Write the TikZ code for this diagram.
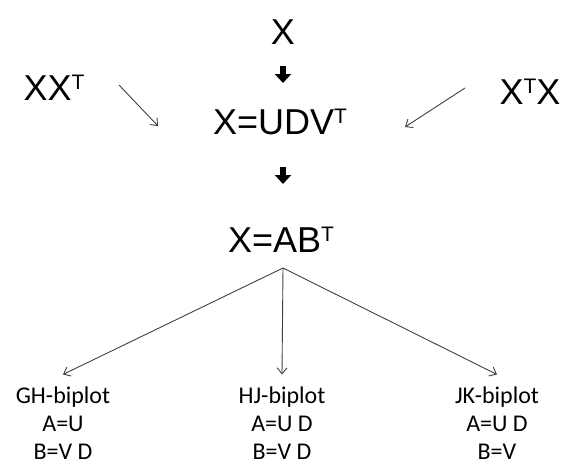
\documentclass[tikz,border=0pt]{standalone}
\usepackage{fontspec}
\setmainfont{Liberation Sans}
\newfontfamily\calib{Carlito}
\usetikzlibrary{arrows.meta, positioning, calc}
\newcommand{\tp}{\raisebox{10.5pt}{\fontsize{21}{21}\selectfont T}}
\tikzset{
  big/.style={font=\fontsize{36}{40}\selectfont, inner sep=0pt},
  small/.style={font=\calib\fontsize{24}{28}\selectfont, align=center, inner sep=0pt},
  blockarrow/.style={line width=6pt, -{Triangle[width=16pt, length=9pt]}},
  thin/.style={draw=black!75, line width=0.9pt, -{Straight Barb[length=6pt, width=10pt]}}
}
\begin{document}
\begin{tikzpicture}[x=1pt, y=-1pt]
\useasboundingbox (0,0) rectangle (563,464);
% matrices on top
\node[big] (x) at (283,32) {X};
\node[big] (svd) at (280,122) {X=UDV\tp};
\node[big] (ab) at (281,240) {X=AB\tp};
\node[big] (xxt) at (54,88) {XX\tp};
\node[big] (xtx) at (530,92) {X\tp X};
\draw[blockarrow] (283,66) -- (283,83);
\draw[blockarrow] (283,167) -- (283,184);
% side arrows
\coordinate (l0) at (119,85);
\coordinate (l1) at (158,126);
\coordinate (r0) at (465,88);
\coordinate (r1) at (405,127);
\draw[thin] (l0) -- (l1);
\draw[thin] (r0) -- (r1);
% the three biplots
\coordinate (split) at (283,268);
\node[small] (gh) at (63,423) {GH-biplot\\A=U\\B=V D};
\node[small] (hj) at (282,423) {HJ-biplot\\A=U D\\B=V D};
\node[small] (jk) at (497,423) {JK-biplot\\A=U D\\B=V};
\draw[thin] (split) -- ($(gh.north)+(0,-12)$);
\draw[thin] (split) -- ($(hj.north)+(0,-12)$);
\draw[thin] (split) -- ($(jk.north)+(0,-12)$);
\end{tikzpicture}
\end{document}
